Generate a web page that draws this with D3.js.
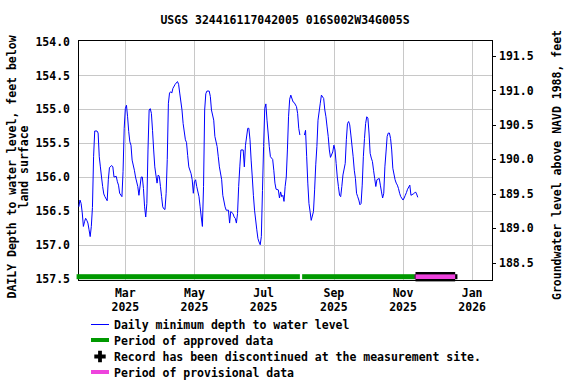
<!DOCTYPE html>
<html>
<head>
<meta charset="utf-8">
<script src="https://cdn.jsdelivr.net/npm/d3@7"></script>
<style>
  html, body { margin: 0; padding: 0; background: #fff; }
  svg text { font-family: "DejaVu Sans Mono", monospace; font-weight: bold; font-size: 11.5px; fill: #000; }
</style>
</head>
<body>
<svg id="chart" width="576" height="384"></svg>
<script>
// ---- Data ----
const title = "USGS 324416117042005 016S002W34G005S";
// day offsets from 2025-01-01 and daily minimum depth to water (ft below land surface)
const dayOffsets = [18,19,20,21,22,23,24,25,26,27,28,29,30,31,32,34,35,36,37,38,39,40,41,43,44,45,47,48,49,51,52,53,54,56,57,58,59,60,61,62,63,64,65,67,68,70,71,73,74,75,76,77,78,79,80,81,82,83,84,85,87,88,89,90,91,92,93,94,95,96,97,98,99,100,101,103,105,106,107,109,110,112,113,114,115,117,118,119,120,121,122,124,125,126,127,128,129,130,131,133,134,135,137,138,140,141,142,144,145,147,148,150,151,152,154,155,156,157,158,159,160,161,163,164,165,167,168,169,170,171,172,173,175,176,177,178,179,180,181,182,183,184,185,186,187,189,190,191,192,194,195,196,197,198,199,200,201,202,203,204,205,207,208,210,211,212,213,215,217,218,219,220,221,222,223,225,226,227,228,229,231,232,234,235,236,237,238,239,240,242,243,244,245,246,247,248,249,250,251,253,254,255,256,257,258,260,261,262,263,264,265,266,267,268,269,270,271,272,273,274,275,276,277,278,279,280,281,283,284,285,286,287,288,289,290,291,292,293,294,295,297,298,299,300,301,302,304,305,306,307,308,310,311,313,314,315,316,317];
const depths = [156.44,156.34,156.39,156.53,156.73,156.66,156.61,156.64,156.68,156.78,156.88,156.73,156.45,155.70,155.32,155.32,155.35,155.70,155.85,156.00,156.14,156.25,156.29,156.35,156.04,155.86,155.83,155.85,156.00,155.99,156.07,156.12,156.24,156.29,155.92,155.28,154.99,154.94,155.11,155.33,155.48,155.53,155.75,155.90,156.00,156.14,156.27,156.00,156.00,156.17,156.44,156.59,156.39,155.60,155.01,154.99,155.06,155.31,155.60,155.85,156.09,155.97,155.99,156.14,156.29,156.44,156.47,156.48,156.24,155.74,154.91,154.76,154.74,154.76,154.69,154.63,154.59,154.63,154.76,155.01,155.21,155.45,155.49,155.68,155.85,155.95,156.04,156.24,156.07,156.04,156.14,156.29,156.44,156.59,156.73,156.14,155.01,154.77,154.73,154.73,154.81,155.01,155.16,155.40,155.55,155.70,155.85,156.04,156.27,156.44,156.49,156.49,156.68,156.51,156.54,156.59,156.61,156.68,156.54,156.14,155.85,155.60,155.60,155.85,155.53,155.28,155.28,155.45,155.75,156.00,156.27,156.49,156.78,156.91,156.96,157.00,156.88,156.20,155.55,154.99,154.92,155.16,155.35,155.55,155.70,155.74,155.90,156.09,156.18,156.19,156.31,156.22,156.29,156.27,156.36,156.14,156.00,155.60,155.11,154.85,154.79,154.89,154.90,154.96,155.06,155.28,155.38,null,155.38,155.31,155.70,156.09,156.39,156.51,156.64,156.51,156.19,155.82,155.55,155.16,154.91,154.79,154.84,155.01,155.11,155.26,155.40,155.60,155.71,155.63,155.53,155.60,155.80,156.00,156.14,156.27,156.29,156.14,155.97,155.80,155.45,155.21,155.18,155.23,155.38,155.70,155.90,156.02,156.24,156.29,156.34,156.41,156.39,156.12,155.70,155.43,155.21,155.11,155.13,155.35,155.65,155.72,155.77,155.90,156.02,156.14,156.04,156.02,156.12,156.22,156.31,156.24,155.85,155.63,155.40,155.35,155.35,155.43,155.60,155.87,156.04,156.09,156.12,156.17,156.24,156.29,156.34,156.31,156.27,156.23,156.18,156.12,156.27,156.25,156.24,156.22,156.25,156.30];

const approvedStarts = ["2025-01-17", "2025-08-04"];
const approvedEnds   = ["2025-08-02", "2025-11-11"];
const provisionalStarts = ["2025-11-12"];
const provisionalEnds   = ["2025-12-17"];
const discontinuedStarts = ["2025-11-11"];
const discontinuedEnds   = ["2025-12-19"];

const leftTicks = [154.0, 154.5, 155.0, 155.5, 156.0, 156.5, 157.0, 157.5];
const rightTicks = [188.5, 189.0, 189.5, 190.0, 190.5, 191.0, 191.5];
const xTickDates = ["2025-03-01", "2025-05-01", "2025-07-01", "2025-09-01", "2025-11-01", "2026-01-01"];
const xTickMonths = ["Mar", "May", "Jul", "Sep", "Nov", "Jan"];
const xTickYears = ["2025", "2025", "2025", "2025", "2025", "2026"];

const leftLabel = ["DAILY Depth to water level, feet below", "land surface"];
const rightLabel = "Groundwater level above NAVD 1988, feet";
const legendItems = ["Daily minimum depth to water level", "Period of approved data",
  "Record has been discontinued at the measurement site.", "Period of provisional data"];

// ---- Layout ----
const M = { left: 78, right: 492, top: 40, bottom: 280 };
const parse = d3.timeParse("%Y-%m-%d");
const base = new Date(2025, 0, 1);

const x = d3.scaleTime()
  .domain([new Date(2025, 0, 18, 6), new Date(2026, 0, 18, 12)])
  .range([M.left, M.right]);
const y = d3.scaleLinear().domain([153.976, 157.521]).range([M.top, M.bottom]);
const yR = d3.scaleLinear().domain([191.732, 188.246]).range([M.top, M.bottom]);

const svg = d3.select("#chart");

// title
svg.append("text").attr("x", 285).attr("y", 24).attr("text-anchor", "middle").text(title);

// gridlines
const grid = svg.append("g").attr("stroke", "#c8c8c8").attr("stroke-width", 1).attr("shape-rendering", "crispEdges");
grid.selectAll("line.h").data(leftTicks.filter(t => t > 154.0 && t < 157.5)).join("line")
  .attr("x1", M.left).attr("x2", M.right)
  .attr("y1", d => Math.round(y(d)) + 0.5).attr("y2", d => Math.round(y(d)) + 0.5);
grid.selectAll("line.v").data(xTickDates.map(parse)).join("line")
  .attr("y1", M.top).attr("y2", M.bottom)
  .attr("x1", d => Math.round(x(d)) + 0.5).attr("x2", d => Math.round(x(d)) + 0.5);

// frame
svg.append("rect").attr("x", M.left + 0.5).attr("y", M.top + 0.5)
  .attr("width", M.right - M.left).attr("height", M.bottom - M.top)
  .attr("fill", "none").attr("stroke", "#000").attr("stroke-width", 1).attr("shape-rendering", "crispEdges");

// left tick labels
svg.append("g").selectAll("text").data(leftTicks).join("text")
  .attr("x", 70).attr("y", d => y(d)).attr("dy", "0.36em").attr("text-anchor", "end")
  .text(d => d.toFixed(1));

// right axis ticks + labels
const rg = svg.append("g");
rg.selectAll("line").data(rightTicks).join("line")
  .attr("x1", M.right).attr("x2", M.right + 4)
  .attr("y1", d => Math.round(yR(d)) + 0.5).attr("y2", d => Math.round(yR(d)) + 0.5)
  .attr("stroke", "#000").attr("shape-rendering", "crispEdges");
rg.selectAll("text").data(rightTicks).join("text")
  .attr("x", 499).attr("y", d => yR(d)).attr("dy", "0.36em")
  .text(d => d.toFixed(1));

// x tick labels
const xt = svg.append("g");
xt.selectAll("text.m").data(xTickDates).join("text")
  .attr("x", d => x(parse(d))).attr("y", 297).attr("text-anchor", "middle")
  .text((d, i) => xTickMonths[i]);
xt.selectAll("text.yr").data(xTickDates).join("text")
  .attr("x", d => x(parse(d))).attr("y", 311).attr("text-anchor", "middle")
  .text((d, i) => xTickYears[i]);

// axis titles
svg.append("text").attr("transform", "translate(16,167) rotate(-90)").attr("text-anchor", "middle").text(leftLabel[0]);
svg.append("text").attr("transform", "translate(27.5,167) rotate(-90)").attr("text-anchor", "middle").text(leftLabel[1]);
svg.append("text").attr("transform", "translate(561,165) rotate(-90)").attr("text-anchor", "middle").text(rightLabel);

// data line
const pts = dayOffsets.map((d, i) => ({ date: d3.timeDay.offset(base, d), v: depths[i] }));
const line = d3.line().defined(d => d.v != null).x(d => x(d.date)).y(d => y(d.v));
svg.append("path").datum(pts).attr("d", line)
  .attr("fill", "none").attr("stroke", "#0000ff").attr("stroke-width", 1);

// period bars
const barY = 276.7;
const bars = svg.append("g");
bars.selectAll("rect.ap").data(approvedStarts).join("rect")
  .attr("x", d => x(parse(d))).attr("width", (d, i) => x(parse(approvedEnds[i])) - x(parse(d)))
  .attr("y", barY - 2.5).attr("height", 5).attr("fill", "#009900");
bars.selectAll("rect.dc").data(discontinuedStarts).join("rect")
  .attr("x", d => x(parse(d))).attr("width", (d, i) => x(parse(discontinuedEnds[i])) - x(parse(d)))
  .attr("y", barY - 2.5).attr("height", 5).attr("fill", "#000");
bars.selectAll("rect.dc2").data(provisionalStarts).join("rect")
  .attr("x", d => x(parse(d))).attr("width", (d, i) => x(parse(provisionalEnds[i])) - x(parse(d)))
  .attr("y", barY - 4.7).attr("height", 9.4).attr("fill", "#000");
bars.selectAll("rect.pv").data(provisionalStarts).join("rect")
  .attr("x", d => x(parse(d))).attr("width", (d, i) => x(parse(provisionalEnds[i])) - x(parse(d)))
  .attr("y", barY - 2.3).attr("height", 4.6).attr("fill", "#ee44dd");

// legend
const lg = svg.append("g");
const rows = [324.5, 340.5, 356.5, 372.5];
lg.append("line").attr("x1", 91).attr("x2", 109).attr("y1", rows[0]).attr("y2", rows[0]).attr("stroke", "#0000ff").attr("stroke-width", 1);
lg.append("line").attr("x1", 91).attr("x2", 109).attr("y1", rows[1] - 0.5).attr("y2", rows[1] - 0.5).attr("stroke", "#009900").attr("stroke-width", 4);
lg.append("path").attr("transform", `translate(100,${rows[2]})`).attr("d", d3.symbol(d3.symbolCross, 72)()).attr("fill", "#000");
lg.append("line").attr("x1", 91).attr("x2", 109).attr("y1", rows[3] - 0.5).attr("y2", rows[3] - 0.5).attr("stroke", "#ee44dd").attr("stroke-width", 4);
lg.selectAll("text").data(legendItems).join("text")
  .attr("x", 114).attr("y", (d, i) => rows[i] + 4).text(d => d);
</script>
</body>
</html>
